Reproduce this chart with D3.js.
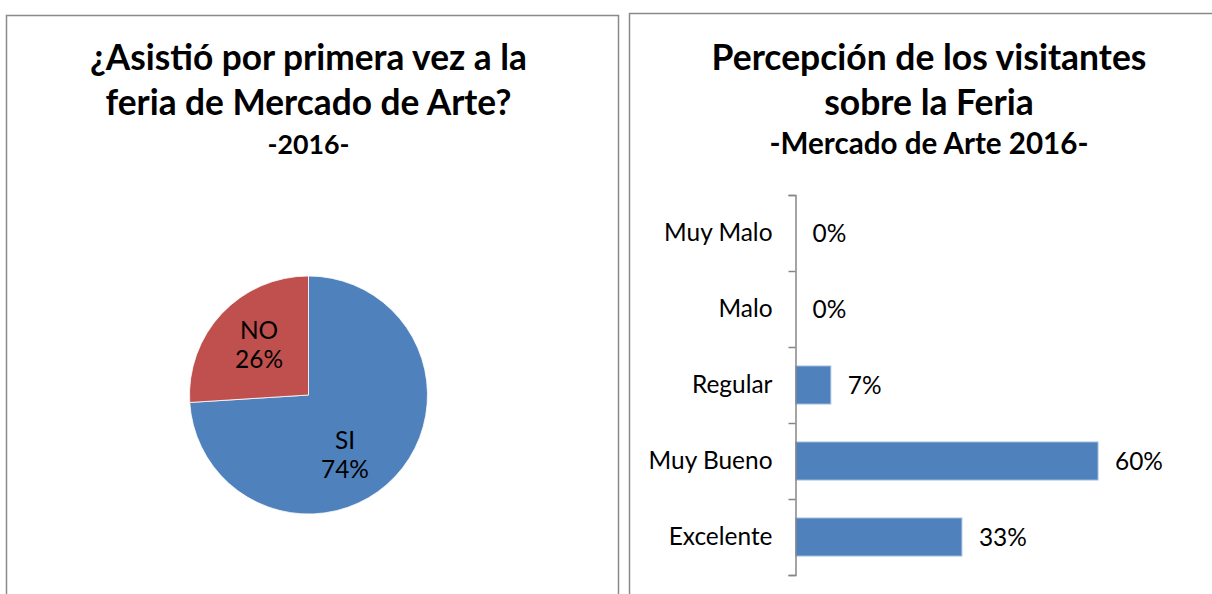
<!DOCTYPE html>
<html>
<head>
<meta charset="utf-8">
<script src="https://cdn.jsdelivr.net/npm/d3@7"></script>
<style>
  body { margin: 0; background: #fff; }
  svg { display: block; font-family: Lato, "Open Sans", sans-serif; }
</style>
</head>
<body>
<div id="chart"></div>
<script>
// pie: first visit
var pieLabels = ["SI", "NO"];
var pieValues = [74, 26];
var pieColors = ["#4F81BD", "#C0504D"];

// bars: perception, top to bottom
var barCategories = ["Muy Malo", "Malo", "Regular", "Muy Bueno", "Excelente"];
var barValues = [0, 0, 7, 60, 33];

var leftTitle = ["¿Asistió por primera vez a la", "feria de Mercado de Arte?", "-2016-"];
var rightTitle = ["Percepción de los visitantes", "sobre la Feria", "-Mercado de Arte 2016-"];

var W = 1212, H = 594;
var svg = d3.select("#chart").append("svg")
    .attr("width", W)
    .attr("height", H);

// scale a text element's font size so it spans a given width
function fitSize(str, weight, target) {
    let t = svg.append("text")
        .attr("font-size", 100)
        .attr("font-weight", weight)
        .text(str);
    let len = t.node().getComputedTextLength();
    t.remove();
    return 100 * target / len;
}

// panel frames (they run off the bottom / right of the picture)
svg.append("rect")
    .attr("x", 6.5).attr("y", 15.5)
    .attr("width", 612).attr("height", 620)
    .attr("fill", "none").attr("stroke", "#8a8a8a").attr("stroke-width", 1.5);
svg.append("rect")
    .attr("x", 629.5).attr("y", 13.5)
    .attr("width", 620).attr("height", 620)
    .attr("fill", "none").attr("stroke", "#8a8a8a").attr("stroke-width", 1.5);

// titles
function drawTitle(lines, cx, w1, w3) {
    let big = fitSize(lines[0], "bold", w1);
    let small = fitSize(lines[2], "bold", w3);
    let ys = [70, 115, 154];
    lines.forEach(function(s, i) {
        svg.append("text")
            .attr("x", cx).attr("y", ys[i])
            .attr("text-anchor", "middle")
            .attr("font-weight", "bold")
            .attr("font-size", i < 2 ? big : small)
            .attr("fill", "#000")
            .text(s);
    });
}
drawTitle(leftTitle, 308.5, 437, 82);
drawTitle(rightTitle, 929, 435, 319);

var bodySize = fitSize("Muy Bueno", "normal", 124);

// ---- pie ----
var pieR = 119;
var pieG = svg.append("g").attr("transform", "translate(308.5,395)");
var pie = d3.pie().sort(null)(pieValues);
var arc = d3.arc().innerRadius(0).outerRadius(pieR);
var labelArc = d3.arc().innerRadius(pieR * 0.6).outerRadius(pieR * 0.6);

pieG.selectAll("path.slice")
    .data(pie)
    .enter().append("path")
    .attr("class", "slice")
    .attr("d", arc)
    .attr("fill", function(d, i) { return pieColors[i]; })
    .attr("stroke", "#fff")
    .attr("stroke-width", 0.8);

// the big slice's label sits a bit lower and nearer the centre, like Excel's best fit
var pl = pieG.selectAll("text.plabel")
    .data(pie)
    .enter().append("text")
    .attr("class", "plabel")
    .attr("text-anchor", "middle")
    .attr("font-size", bodySize)
    .attr("fill", "#000")
    .attr("transform", function(d) {
        let c = labelArc.centroid(d);
        if (d.endAngle - d.startAngle > Math.PI) { c[0] *= 0.7; c[1] *= 1.25; }
        else { c[0] *= 0.95; }
        return "translate(" + c[0] + "," + c[1] + ")";
    });
pl.append("tspan").attr("x", 0).attr("dy", "-0.3em")
    .text(function(d, i) { return pieLabels[i]; });
pl.append("tspan").attr("x", 0).attr("dy", "1.2em")
    .text(function(d) { return d.value + "%"; });

// ---- bars ----
var x0 = 795.5;
var yTop = 195, yBot = 575;
var y = d3.scaleBand()
    .domain(barCategories)
    .range([yTop, yBot])
    .paddingInner(0.5)
    .paddingOuter(0.25);
var x = d3.scaleLinear()
    .domain([0, 60])
    .range([x0, 1098]);

svg.selectAll("rect.bar")
    .data(barValues)
    .enter().append("rect")
    .attr("class", "bar")
    .attr("x", x(0))
    .attr("y", function(d, i) { return y(barCategories[i]); })
    .attr("width", function(d) { return x(d) - x(0); })
    .attr("height", y.bandwidth())
    .attr("fill", "#4F81BD")
    .attr("stroke", function(d) { return d > 0 ? "#9DB9DD" : "none"; })
    .attr("stroke-width", 1);

svg.selectAll("text.val")
    .data(barValues)
    .enter().append("text")
    .attr("class", "val")
    .attr("x", function(d) { return x(d) + 17; })
    .attr("y", function(d, i) { return y(barCategories[i]) + y.bandwidth() / 2; })
    .attr("dy", "0.35em")
    .attr("font-size", bodySize)
    .attr("fill", "#000")
    .text(function(d) { return d + "%"; });

// category axis: tick marks sit between categories
var boundary = d3.scaleLinear().domain([0, barCategories.length]).range([yTop, yBot]);
var tickAxis = svg.append("g")
    .attr("transform", "translate(" + x0 + ",0)")
    .call(d3.axisLeft(boundary).ticks(barCategories.length).tickSize(7).tickSizeOuter(7).tickFormat(""));
tickAxis.selectAll("path, line").attr("stroke", "#868686").attr("stroke-width", 1.5);

var labelAxis = svg.append("g")
    .attr("transform", "translate(" + x0 + ",0)")
    .call(d3.axisLeft(y).tickSize(0).tickPadding(23));
labelAxis.attr("font-family", null).attr("font-size", null);
labelAxis.select(".domain").remove();
labelAxis.selectAll("text")
    .attr("font-size", bodySize)
    .attr("fill", "#000");
</script>
</body>
</html>
